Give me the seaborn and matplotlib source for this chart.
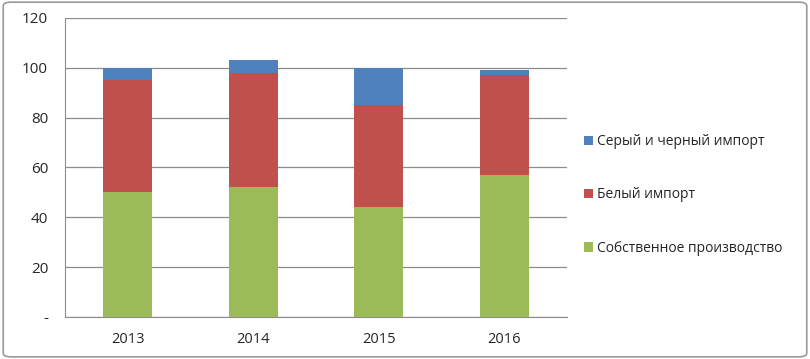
import matplotlib
matplotlib.use("Agg")
import matplotlib.pyplot as plt
from matplotlib.patches import FancyBboxPatch, Patch
import seaborn as sns
import pandas as pd
import numpy as np

years = ["2013", "2014", "2015", "2016"]
own_production = [50, 52, 44, 57]
white_import = [45, 46, 41, 40]
grey_black_import = [5, 5, 15, 2]

labels = ["Серый и черный импорт", "Белый импорт", "Собственное производство"]
colors = ["#4F81BD", "#C0504D", "#9BBB59"]

sns.set_style("white")
plt.rcParams["font.family"] = ["Open Sans", "DejaVu Sans"]

df = pd.DataFrame({
    "year": years,
    "own": own_production,
    "white": white_import,
    "grey": grey_black_import,
})
# cumulative heights for stacking (draw tallest first)
df["top_white"] = df["own"] + df["white"]
df["top_grey"] = df["top_white"] + df["grey"]

fig = plt.figure(figsize=(8.1, 3.59), dpi=100)
ax = fig.add_axes([0.080, 0.117, 0.620, 0.833])

for col, c in zip(["top_grey", "top_white", "own"], colors):
    sns.barplot(data=df, x="year", y=col, color=c, width=0.39,
                saturation=1, linewidth=0, edgecolor="none", ax=ax, zorder=3)

ax.set_ylim(0, 120)
ax.set_xlim(-0.5, 3.5)
ax.set_yticks(np.arange(0, 121, 20))
ax.set_yticklabels(["-"] + [str(v) for v in range(20, 121, 20)])
ax.yaxis.grid(True, color="#8c8c8c", linewidth=0.9, zorder=0)
ax.set_axisbelow(True)
ax.set_xlabel("")
ax.set_ylabel("")

for s in ["top", "right"]:
    ax.spines[s].set_visible(False)
ax.spines["left"].set_color("#8c8c8c")
ax.spines["bottom"].set_color("#8c8c8c")

# category separator ticks below the axis
ax.set_xticks([-0.5, 0.5, 1.5, 2.5, 3.5], minor=True)
ax.tick_params(axis="x", which="minor", length=5, color="#8c8c8c", width=0.9)
ax.tick_params(axis="x", which="major", length=0, labelsize=10.5, pad=11)
ax.tick_params(axis="y", length=5, color="#8c8c8c", labelsize=11, pad=12)
ax.tick_params(axis="y", direction="in")

handles = [Patch(facecolor=c, edgecolor="none") for c in colors]
fig.legend(handles, labels, loc="center left", bbox_to_anchor=(0.705, 0.457),
           frameon=False, fontsize=10, handlelength=0.7, handleheight=0.7,
           handletextpad=0.3, labelspacing=2.75)

border = FancyBboxPatch((0.004, 0.006), 0.992, 0.988, transform=fig.transFigure,
                        boxstyle="round,pad=0,rounding_size=0.01",
                        facecolor="none", edgecolor="#9a9a9a", linewidth=1.2)
fig.patches.append(border)

fig.savefig("out.png", dpi=100)
